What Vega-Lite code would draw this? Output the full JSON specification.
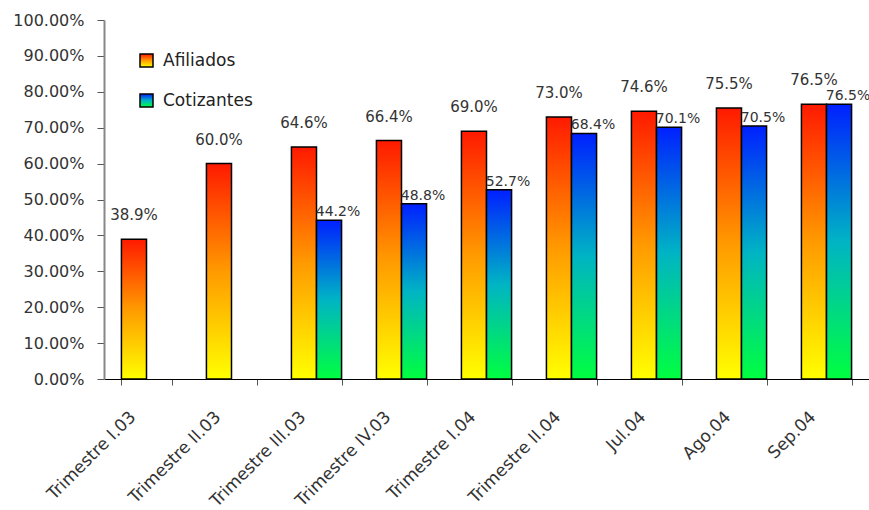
{
  "$schema": "https://vega.github.io/schema/vega-lite/v6.json",
  "autosize": "none",
  "width": 765,
  "height": 359,
  "padding": {"left": 104, "top": 20, "right": 0, "bottom": 131},
  "background": "white",
  "config": {
    "view": {"stroke": null},
    "font": "DejaVu Sans",
    "text": {"font": "DejaVu Sans"}
  },
  "data": {
    "values": [
      {"periodo": "Trimestre I.03", "serie": "Afiliados", "valor": 0.389},
      {"periodo": "Trimestre II.03", "serie": "Afiliados", "valor": 0.600},
      {"periodo": "Trimestre III.03", "serie": "Afiliados", "valor": 0.646},
      {"periodo": "Trimestre IV.03", "serie": "Afiliados", "valor": 0.664},
      {"periodo": "Trimestre I.04", "serie": "Afiliados", "valor": 0.690},
      {"periodo": "Trimestre II.04", "serie": "Afiliados", "valor": 0.730},
      {"periodo": "Jul.04", "serie": "Afiliados", "valor": 0.746},
      {"periodo": "Ago.04", "serie": "Afiliados", "valor": 0.755},
      {"periodo": "Sep.04", "serie": "Afiliados", "valor": 0.765},
      {"periodo": "Trimestre III.03", "serie": "Cotizantes", "valor": 0.442},
      {"periodo": "Trimestre IV.03", "serie": "Cotizantes", "valor": 0.488},
      {"periodo": "Trimestre I.04", "serie": "Cotizantes", "valor": 0.527},
      {"periodo": "Trimestre II.04", "serie": "Cotizantes", "valor": 0.684},
      {"periodo": "Jul.04", "serie": "Cotizantes", "valor": 0.701},
      {"periodo": "Ago.04", "serie": "Cotizantes", "valor": 0.705},
      {"periodo": "Sep.04", "serie": "Cotizantes", "valor": 0.765}
    ]
  },
  "encoding": {
    "x": {
      "field": "periodo",
      "type": "nominal",
      "sort": null,
      "title": null,
      "scale": {"paddingInner": 0.41, "paddingOuter": 0.205},
      "axis": {
        "labelAngle": -45,
        "labelAlign": "right",
        "labelBaseline": "middle",
        "labelFontSize": 17,
        "labelColor": "#333333",
        "labelPadding": 29,
        "labelOffset": -14,
        "tickBand": "extent",
        "tickSize": 6,
        "tickColor": "#555555",
        "domainColor": "#000000",
        "labelFont": "DejaVu Sans"
      }
    },
    "xOffset": {
      "field": "serie",
      "type": "nominal",
      "scale": {"domain": ["Afiliados", "Cotizantes"], "paddingInner": 0, "paddingOuter": 0}
    },
    "y": {
      "field": "valor",
      "type": "quantitative",
      "title": null,
      "scale": {"domain": [0, 1]},
      "axis": {
        "format": ".2%",
        "values": [0, 0.1, 0.2, 0.3, 0.4, 0.5, 0.6, 0.7, 0.8, 0.9, 1.0],
        "grid": false,
        "labelFontSize": 16,
        "labelColor": "#333333",
        "tickSize": 7,
        "tickColor": "#555555",
        "domainColor": "#888888",
        "domainWidth": 2,
        "labelPadding": 13,
        "labelFont": "DejaVu Sans"
      }
    }
  },
  "resolve": {"scale": {"stroke": "independent"}, "legend": {"stroke": "independent"}},
  "layer": [
    {
      "transform": [{"filter": "datum.serie == 'Afiliados'"}],
      "mark": {
        "type": "bar",
        "strokeWidth": 1.5,
        "fill": {"gradient": "linear", "x1": 0, "y1": 0, "x2": 0, "y2": 1,
          "stops": [{"offset": 0, "color": "#ff1a00"}, {"offset": 0.5, "color": "#ff9a00"}, {"offset": 1, "color": "#ffff00"}]}
      },
      "encoding": {
        "stroke": {
          "field": "serie",
          "type": "nominal",
          "scale": {"domain": ["Afiliados"], "range": ["#000000"]},
          "legend": {
            "title": null,
            "orient": "none",
            "legendX": 34,
            "legendY": 32,
            "symbolType": "square",
            "symbolSize": 169,
            "symbolStrokeWidth": 1.5,
            "labelFontSize": 17,
            "labelColor": "#222222",
            "labelFont": "DejaVu Sans",
            "labelOffset": 8,
            "encode": {
              "symbols": {
                "update": {
                  "fill": {"value": {"gradient": "linear", "x1": 0, "y1": 0, "x2": 0, "y2": 1,
                    "stops": [{"offset": 0, "color": "#ff1a00"}, {"offset": 0.5, "color": "#ff9a00"}, {"offset": 1, "color": "#ffff00"}]}},
                  "fillOpacity": {"value": 1},
                  "stroke": {"value": "#000000"}
                }
              }
            }
          }
        }
      }
    },
    {
      "transform": [{"filter": "datum.serie == 'Cotizantes'"}],
      "mark": {
        "type": "bar",
        "strokeWidth": 1.5,
        "fill": {"gradient": "linear", "x1": 0, "y1": 0, "x2": 0, "y2": 1,
          "stops": [{"offset": 0, "color": "#0020ff"}, {"offset": 0.5, "color": "#00b4c4"}, {"offset": 1, "color": "#00ff40"}]}
      },
      "encoding": {
        "stroke": {
          "field": "serie",
          "type": "nominal",
          "scale": {"domain": ["Cotizantes"], "range": ["#000000"]},
          "legend": {
            "title": null,
            "orient": "none",
            "legendX": 34,
            "legendY": 72,
            "symbolType": "square",
            "symbolSize": 169,
            "symbolStrokeWidth": 1.5,
            "labelFontSize": 17,
            "labelColor": "#222222",
            "labelFont": "DejaVu Sans",
            "labelOffset": 8,
            "encode": {
              "symbols": {
                "update": {
                  "fill": {"value": {"gradient": "linear", "x1": 0, "y1": 0, "x2": 0, "y2": 1,
                    "stops": [{"offset": 0, "color": "#0020ff"}, {"offset": 0.5, "color": "#00b4c4"}, {"offset": 1, "color": "#00ff40"}]}},
                  "fillOpacity": {"value": 1},
                  "stroke": {"value": "#000000"}
                }
              }
            }
          }
        }
      }
    },
    {
      "transform": [{"filter": "datum.serie == 'Afiliados'"}],
      "mark": {"type": "text", "baseline": "middle", "dy": -24, "fontSize": 15, "color": "#333333"},
      "encoding": {"text": {"field": "valor", "type": "quantitative", "format": ".1%"}}
    },
    {
      "transform": [{"filter": "datum.serie == 'Cotizantes'"}],
      "mark": {"type": "text", "baseline": "middle", "dy": -8, "dx": 9, "fontSize": 14, "color": "#333333"},
      "encoding": {"text": {"field": "valor", "type": "quantitative", "format": ".1%"}}
    }
  ]
}
